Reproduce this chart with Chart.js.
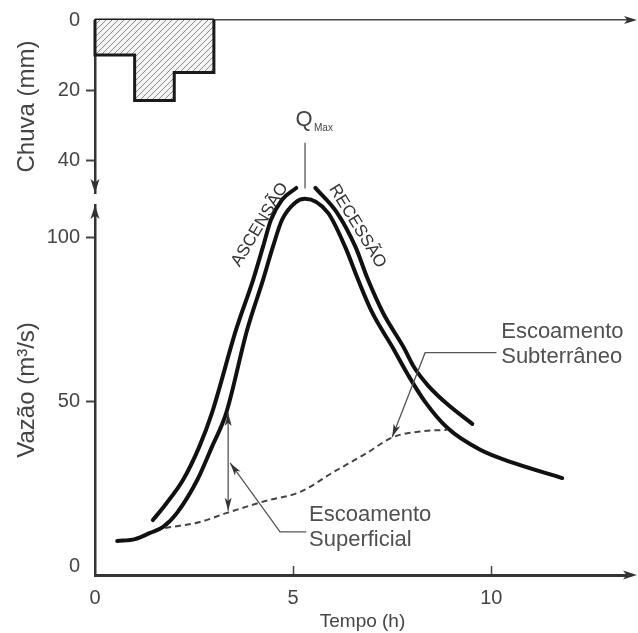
<!DOCTYPE html>
<html>
<head>
<meta charset="utf-8">
<script src="https://cdn.jsdelivr.net/npm/chart.js@4.4.1/dist/chart.umd.min.js"></script>
<style>
  html, body { margin: 0; padding: 0; background: #fff; }
  canvas { display: block; }
</style>
</head>
<body>
<canvas id="hidro" width="638" height="633"></canvas>
<script>
// chuva (hietograma), mm por intervalo de 1 h
const rainStart = [0, 1, 2];
const rainEnd = [1, 2, 3];
const rainDepth = [10, 23, 15];

// vazão total (hidrograma), h e m3/s
const timeTotal = [0.56, 1.01, 1.39, 1.72, 2.07, 2.58, 2.95, 3.31, 3.84, 4.24, 4.49, 4.72, 5.05, 5.3, 5.88, 6.31, 6.64, 7.0, 7.5, 7.9, 8.33, 8.89, 9.72, 10.56, 11.79];
const flowTotal = [7.6, 8.2, 10.1, 11.9, 16.2, 26.2, 36.3, 46.6, 72, 87.2, 97.3, 105.5, 110.7, 111.9, 107.6, 97.3, 87.2, 77.1, 66.8, 58.2, 50, 42.1, 35.4, 31.4, 26.8];

// escoamento subterrâneo (linha tracejada)
const timeBase = [1.77, 2.65, 3.33, 4.3, 5.18, 6.0, 6.8, 7.53, 8.2, 8.89];
const flowBase = [11.6, 13.4, 16.2, 19.8, 22.6, 28.5, 34, 39.3, 41, 41.5];

// linhas de ascensão e recessão
const timeRise = [1.46, 1.77, 2.22, 2.63, 2.95, 3.56, 3.99, 4.24, 4.44, 4.72, 5.08];
const flowRise = [14, 18.6, 26.2, 36.3, 46.6, 72, 87.2, 97.3, 105.5, 111.6, 115.2];
const timeFall = [5.56, 6.11, 6.57, 6.89, 7.27, 7.78, 8.06, 8.41, 8.91, 9.52];
const flowFall = [115.2, 107.6, 97.3, 87.2, 77.1, 66.8, 60.4, 54.9, 49.1, 43.3];

const timeTicks = [0, 5, 10];
const flowTicks = [0, 50, 100];
const rainTicks = [0, 10, 20, 30, 40];
const rainLabels = [0, 20, 40];

const FONT = '"Liberation Sans", Arial, Helvetica, sans-serif';
Chart.defaults.font.family = FONT;
Chart.defaults.color = '#444';

const toPts = (xs, ys) => xs.map((v, i) => ({ x: v, y: ys[i] }));

// contorno em degraus do hietograma
const rainPts = [{ x: rainStart[0], y: 0 }];
rainStart.forEach((s, i) => rainPts.push({ x: s, y: rainDepth[i] }));
rainPts.push({ x: rainEnd[rainEnd.length - 1], y: rainDepth[rainDepth.length - 1] });
rainPts.push({ x: rainEnd[rainEnd.length - 1], y: 0 });

function hatch(ctx) {
  const c = document.createElement('canvas');
  c.width = 6; c.height = 6;
  const g = c.getContext('2d');
  g.fillStyle = '#f4f4f4';
  g.fillRect(0, 0, 6, 6);
  g.strokeStyle = '#8c8c8c';
  g.lineWidth = 1;
  g.beginPath();
  g.moveTo(0, 6); g.lineTo(6, 0);
  g.moveTo(-1, 1); g.lineTo(1, -1);
  g.moveTo(5, 7); g.lineTo(7, 5);
  g.stroke();
  return ctx.createPattern(c, 'repeat');
}

function arrowHead(ctx, x, y, ang, len, half) {
  ctx.save();
  ctx.translate(x, y);
  ctx.rotate(ang);
  ctx.beginPath();
  ctx.moveTo(0, 0);
  ctx.lineTo(-len, -half);
  ctx.lineTo(-len * 0.75, 0);
  ctx.lineTo(-len, half);
  ctx.closePath();
  ctx.fill();
  ctx.restore();
}

const hideZero = c => (c.tick && c.tick.value === 0) ? 'rgba(0,0,0,0)' : '#444';

const extras = {
  id: 'extras',
  afterDraw(chart) {
    const { ctx, chartArea: a, scales } = chart;
    const X = v => scales.x.getPixelForValue(v);
    const Y = v => scales.yQ.getPixelForValue(v);
    ctx.save();

    // setas dos eixos
    ctx.fillStyle = '#333';
    arrowHead(ctx, a.right + 7, a.bottom, 0, 14, 4.5);
    arrowHead(ctx, a.right + 7, a.top, 0, 13, 4);
    arrowHead(ctx, a.left, scales.yRain.bottom, Math.PI / 2, 14, 4.5);
    arrowHead(ctx, a.left, scales.yQ.top, -Math.PI / 2, 14, 4.5);

    // Q max
    ctx.strokeStyle = '#555';
    ctx.lineWidth = 1.3;
    ctx.beginPath();
    ctx.moveTo(X(5.3), Y(129));
    ctx.lineTo(X(5.3), Y(115));
    ctx.stroke();
    ctx.fillStyle = '#444';
    ctx.font = '22px ' + FONT;
    ctx.textAlign = 'center';
    ctx.textBaseline = 'middle';
    ctx.fillText('Q', X(5.3) - 1, Y(136));
    ctx.font = '10px ' + FONT;
    ctx.textAlign = 'left';
    ctx.fillText('Max', X(5.3) + 9, Y(133.5));

    // ascensão / recessão
    ctx.font = '17px ' + FONT;
    ctx.textAlign = 'center';
    ctx.fillStyle = '#333';
    ctx.save();
    ctx.translate(X(4.16), Y(104));
    ctx.rotate(-59 * Math.PI / 180);
    ctx.fillText('ASCENSÃO', 0, 0);
    ctx.restore();
    ctx.save();
    ctx.translate(X(6.62), Y(103.5));
    ctx.rotate(58.5 * Math.PI / 180);
    ctx.fillText('RECESSÃO', 0, 0);
    ctx.restore();

    // seta dupla do escoamento superficial
    ctx.strokeStyle = '#555';
    ctx.fillStyle = '#333';
    ctx.lineWidth = 1.3;
    ctx.beginPath();
    ctx.moveTo(X(3.36), Y(46.6));
    ctx.lineTo(X(3.36), Y(16.8));
    ctx.stroke();
    arrowHead(ctx, X(3.36), Y(46.6), -Math.PI / 2, 13, 3.5);
    arrowHead(ctx, X(3.36), Y(16.8), Math.PI / 2, 13, 3.5);

    // chamada: escoamento superficial
    const s0 = [X(3.41), Y(31.4)], s1 = [X(4.67), Y(10.4)], s2 = [X(5.33), Y(10.4)];
    ctx.beginPath();
    ctx.moveTo(s0[0], s0[1]); ctx.lineTo(s1[0], s1[1]); ctx.lineTo(s2[0], s2[1]);
    ctx.stroke();
    arrowHead(ctx, s0[0], s0[1], Math.atan2(s0[1] - s1[1], s0[0] - s1[0]), 13, 3.5);

    // chamada: escoamento subterrâneo
    const u0 = [X(7.5), Y(39.3)], u1 = [X(8.33), Y(65)], u2 = [X(10.13), Y(65)];
    ctx.beginPath();
    ctx.moveTo(u2[0], u2[1]); ctx.lineTo(u1[0], u1[1]); ctx.lineTo(u0[0], u0[1]);
    ctx.stroke();
    arrowHead(ctx, u0[0], u0[1], Math.atan2(u0[1] - u1[1], u0[0] - u1[0]), 13, 3.5);

    ctx.font = '22px ' + FONT;
    ctx.fillStyle = '#505050';
    ctx.textAlign = 'left';
    ctx.textBaseline = 'middle';
    ctx.fillText('Escoamento', X(5.4), Y(15.5));
    ctx.fillText('Superficial', X(5.4), Y(7.8));
    ctx.fillText('Escoamento', X(10.25), Y(71.3));
    ctx.fillText('Subterrâneo', X(10.25), Y(63.7));

    ctx.restore();
  }
};

const cv = document.getElementById('hidro');
const ctx = cv.getContext('2d');

const curve = (label, xs, ys) => ({
  label,
  data: toPts(xs, ys),
  xAxisID: 'x',
  yAxisID: 'yQ',
  borderColor: '#111',
  borderWidth: 4,
  borderCapStyle: 'round',
  cubicInterpolationMode: 'monotone',
  pointRadius: 0,
  fill: false,
  clip: false
});

new Chart(cv, {
  type: 'line',
  data: {
    datasets: [
      {
        label: 'Chuva',
        data: rainPts,
        xAxisID: 'x',
        yAxisID: 'yRain',
        stepped: 'before',
        borderColor: '#1a1a1a',
        borderWidth: 3,
        borderJoinStyle: 'miter',
        backgroundColor: hatch(ctx),
        fill: 'origin',
        pointRadius: 0,
        clip: false
      },
      {
        label: 'Chuva topo',
        data: [{ x: rainStart[0], y: 0 }, { x: rainEnd[rainEnd.length - 1], y: 0 }],
        xAxisID: 'x',
        yAxisID: 'yRain',
        borderColor: '#1a1a1a',
        borderWidth: 3,
        pointRadius: 0,
        fill: false,
        clip: false
      },
      {
        label: 'Escoamento subterrâneo',
        data: toPts(timeBase, flowBase),
        xAxisID: 'x',
        yAxisID: 'yQ',
        borderColor: '#444',
        borderWidth: 2,
        borderDash: [6, 4],
        cubicInterpolationMode: 'monotone',
        pointRadius: 0,
        fill: false,
        clip: false
      },
      curve('Ascensão', timeRise, flowRise),
      curve('Recessão', timeFall, flowFall),
      curve('Vazão', timeTotal, flowTotal)
    ]
  },
  options: {
    responsive: false,
    animation: false,
    devicePixelRatio: 1,
    layout: { padding: { top: 0, right: 8, bottom: 0, left: 0 } },
    plugins: { legend: { display: false }, tooltip: { enabled: false } },
    scales: {
      x: {
        type: 'linear',
        position: 'bottom',
        min: 0,
        max: 13.5,
        afterBuildTicks: s => { s.ticks = timeTicks.map(v => ({ value: v })); },
        afterFit: s => { s.height = 58; },
        border: { color: '#333', width: 3 },
        grid: { drawOnChartArea: false, tickLength: -9, tickWidth: 1.5, tickColor: hideZero },
        ticks: { padding: 20, color: '#444', font: { size: 20 }, maxRotation: 0, autoSkip: false },
        title: { display: true, text: 'Tempo (h)', color: '#444', font: { size: 19 }, padding: 0 }
      },
      xTop: {
        type: 'linear',
        position: 'top',
        min: 0,
        max: 13.5,
        afterFit: s => { s.height = 20; },
        border: { color: '#444', width: 1.6 },
        grid: { display: false },
        ticks: { display: false }
      },
      yQ: {
        type: 'linear',
        position: 'left',
        stack: 'v',
        stackWeight: 370,
        min: -2.74,
        max: 110,
        afterBuildTicks: s => { s.ticks = flowTicks.map(v => ({ value: v })); },
        afterFit: s => { s.width = 95; },
        border: { color: '#333', width: 2.5 },
        grid: { drawOnChartArea: false, tickLength: 9, tickWidth: 2, tickColor: hideZero },
        ticks: { padding: 6, color: '#444', font: { size: 20 } },
        title: { display: true, text: 'Vazão (m³/s)', color: '#444', font: { size: 24 }, padding: { top: 13, bottom: 0 } }
      },
      yGap: {
        type: 'linear',
        position: 'left',
        stack: 'v',
        stackWeight: 12,
        afterFit: s => { s.width = 95; },
        border: { display: false },
        grid: { display: false },
        ticks: { display: false }
      },
      yRain: {
        type: 'linear',
        position: 'left',
        stack: 'v',
        stackWeight: 173,
        reverse: true,
        min: 0,
        max: 49.4,
        afterBuildTicks: s => { s.ticks = rainTicks.map(v => ({ value: v })); },
        afterFit: s => { s.width = 95; },
        border: { color: '#333', width: 2.5 },
        grid: { drawOnChartArea: false, tickLength: 9, tickWidth: 2, tickColor: hideZero },
        ticks: {
          padding: 6,
          color: '#444',
          font: { size: 20 },
          callback: v => rainLabels.includes(v) ? String(v) : ''
        },
        title: { display: true, text: 'Chuva (mm)', color: '#444', font: { size: 24 }, padding: { top: 13, bottom: 0 } }
      }
    }
  },
  plugins: [extras]
});
</script>
</body>
</html>
